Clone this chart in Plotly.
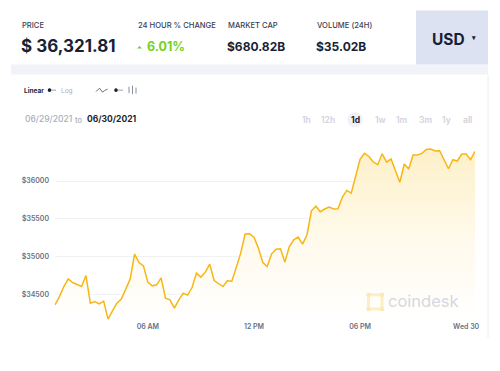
import pandas as pd
import plotly.graph_objects as go

# ---- data ----
start_time = "2021-06-29 00:45"
n_points = 96
prices = [34363, 34473, 34606, 34707, 34659, 34637, 34606, 34751, 34386, 34407,
          34377, 34412, 34174, 34284, 34386, 34439, 34571, 34703, 35034, 34923,
          34879, 34664, 34615, 34628, 34721, 34452, 34430, 34320, 34430, 34518,
          34492, 34592, 34783, 34730, 34796, 34902, 34685, 34650, 34606, 34681,
          34677, 34857, 35047, 35299, 35303, 35259, 35114, 34923, 34870, 35038,
          35100, 35104, 34928, 35135, 35223, 35259, 35166, 35290, 35607, 35667,
          35594, 35630, 35656, 35630, 35634, 35788, 35876, 35841, 36057, 36286,
          36368, 36325, 36251, 36216, 36361, 36251, 36291, 36140, 35984, 36225,
          36160, 36344, 36344, 36365, 36418, 36423, 36397, 36401, 36278, 36163,
          36282, 36265, 36357, 36357, 36282, 36392]
times = pd.date_range(start_time, periods=n_points, freq="15min")

x_tick_vals = ["2021-06-29 06:00", "2021-06-29 12:00", "2021-06-29 18:00", "2021-06-30 00:00"]
x_tick_text = ["06 AM", "12 PM", "06 PM", "Wed 30"]
y_tick_vals = [34500, 35000, 35500, 36000]
y_tick_text = ["$34500", "$35000", "$35500", "$36000"]
y_range = [34150, 36450]

header_labels = ["PRICE", "24 HOUR % CHANGE", "MARKET CAP", "VOLUME (24H)"]
header_values = ["$ 36,321.81", "6.01%", "$680.82B", "$35.02B"]
range_buttons = ["1h", "12h", "1d", "1w", "1m", "3m", "1y", "all"]
date_from, date_to = "06/29/2021", "06/30/2021"

# ---- page geometry (pixels) ----
W, H = 500, 371
L, R, T, B = 55, 475, 147.3, 321.1


def px(x):
    return (x - L) / (R - L)


def py(y):
    return (B - y) / (B - T)


NAVY = "#1a1f36"
FONT = "Inter"

fig = go.Figure()
fig.add_trace(go.Scatter(
    x=times, y=prices, mode="lines",
    line=dict(color="#f7b614", width=1.5),
    fill="tozeroy",
    fillgradient=dict(type="vertical",
                      colorscale=[[0, "rgba(255,255,255,1)"], [0.45, "rgba(255,250,236,1)"],
                                  [1, "rgba(253,240,200,1)"]],
                      start=y_range[0], stop=y_range[1]),
    hoverinfo="skip", showlegend=False,
))

shapes = []
annotations = []


def rect(x0, y0, x1, y1, color, layer="below"):
    shapes.append(dict(type="rect", xref="paper", yref="paper",
                       x0=px(x0), x1=px(x1), y0=py(y1), y1=py(y0),
                       fillcolor=color, line=dict(width=0), layer=layer))


def line(x0, y0, x1, y1, color, width=1):
    shapes.append(dict(type="line", xref="paper", yref="paper",
                       x0=px(x0), x1=px(x1), y0=py(y0), y1=py(y1),
                       line=dict(color=color, width=width)))


def circle(cx, cy, r, color, layer="above"):
    shapes.append(dict(type="circle", xref="paper", yref="paper",
                       x0=px(cx - r), x1=px(cx + r), y0=py(cy + r), y1=py(cy - r),
                       fillcolor=color, line=dict(width=0), layer=layer))


def text(x, y, s, size, color, weight=400, anchor="left"):
    annotations.append(dict(text=s, xref="paper", yref="paper", x=px(x), y=py(y),
                            xanchor=anchor, yanchor="middle", showarrow=False,
                            font=dict(family=FONT, size=size, color=color, weight=weight)))


# header band and USD box
rect(11, 65, 488, 75, "#f1f3f8")
rect(416, 11, 488, 65, "#dde2f3")
line(488, 75, 488, 338, "#eceef3")

# header labels and values
label_x = [20, 136, 226, 315]
for lx, lab in zip(label_x, header_labels):
    text(lx, 25.5, lab, 7.6, "#3c4152", 500)
text(19, 46.5, header_values[0], 17, NAVY, 700)
# up triangle for change
shapes.append(dict(type="path", xref="paper", yref="paper",
                   path="M {} {} L {} {} L {} {} Z".format(px(137), py(49), px(142), py(49), px(139.5), py(46.5)),
                   fillcolor="#74d31a", line=dict(width=0)))
text(145, 47, header_values[1], 12.5, "#74d31a", 700)
text(225, 47, header_values[2], 12, NAVY, 700)
text(314, 47, header_values[3], 12, NAVY, 700)
text(430, 40, "USD", 15.5, NAVY, 700)
text(473, 37.5, "▾", 7, NAVY, 700, anchor="center")

# scale toggles
text(22, 91.5, "Linear", 6.5, NAVY, 700)
circle(49.5, 90.5, 1.8, NAVY)
line(51, 90.5, 56, 90.5, "#9aa0ad", 1)
text(59, 91.5, "Log", 6.5, "#aab0bc", 400)
shapes.append(dict(type="path", xref="paper", yref="paper",
                   path="M {} {} L {} {} L {} {} L {} {} L {} {}".format(
                       px(96), py(92), px(99.5), py(88.5), px(102.5), py(92.5), px(104.5), py(91), px(107.5), py(89.5)),
                   line=dict(color="#6a7080", width=1)))
circle(116, 90.5, 1.8, NAVY)
line(118, 90.5, 123, 90.5, "#9aa0ad", 1)
line(129, 87, 129, 93.5, "#8a90a0", 1)
line(132.5, 86, 132.5, 94.5, "#8a90a0", 1)
line(136, 88, 136, 94, "#8a90a0", 1)

# date range
text(23, 119.5, date_from, 8.5, "#a9aebb", 500)
text(73, 121, "to", 7.5, "#a9aebb", 500)
text(85, 119.5, date_to, 8.5, NAVY, 700)

# time range buttons
btn_x = [306, 328, 355, 380, 402, 425, 446, 467]
circle(355, 120, 7.5, "#eff1f6", layer="below")
for bx, b in zip(btn_x, range_buttons):
    if b == "1d":
        text(bx, 120.5, b, 8.5, NAVY, 700, anchor="center")
    else:
        text(bx, 120.5, b, 8.5, "#cfd3de", 600, anchor="center")

# coindesk watermark
shapes.append(dict(type="rect", xref="paper", yref="paper",
                   x0=px(368.5), x1=px(382), y0=py(309), y1=py(295),
                   fillcolor="rgba(0,0,0,0)", line=dict(color="#fcefc6", width=3), layer="above"))
for cx, cy in [(368.5, 295), (382, 295), (368.5, 309), (382, 309)]:
    circle(cx, cy, 2.3, "#fbeab8")
text(386, 301.5, "coindesk", 16.5, "#d5d8e1", 400)

fig.update_layout(
    width=W, height=H,
    margin=dict(l=L, r=W - R, t=T, b=H - B, pad=0),
    paper_bgcolor="white", plot_bgcolor="white",
    shapes=shapes, annotations=annotations,
    xaxis=dict(range=[times[0], times[-1]], tickvals=x_tick_vals, ticktext=x_tick_text,
               showgrid=False, zeroline=False, showline=False, ticks="",
               tickfont=dict(family=FONT, size=7, color="#6c7080", weight=600)),
    yaxis=dict(range=y_range, tickvals=y_tick_vals, ticktext=y_tick_text,
               showgrid=True, gridcolor="#f1f2f6", gridwidth=1, zeroline=False,
               showline=False, ticks="", ticklabelstandoff=5,
               tickfont=dict(family=FONT, size=7, color="#6c7080", weight=600)),
)

fig.write_html("out.html", config={"displayModeBar": False, "staticPlot": True},
               post_script="document.body.style.margin='0';")
